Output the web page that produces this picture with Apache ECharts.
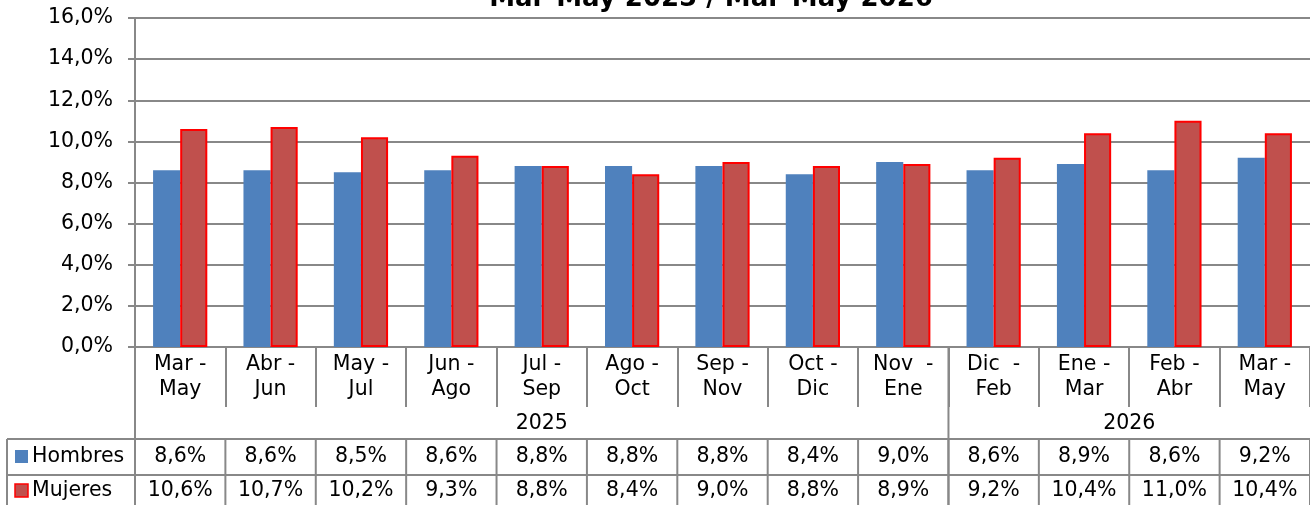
<!DOCTYPE html>
<html>
<head>
<meta charset="utf-8">
<script src="https://cdn.jsdelivr.net/npm/echarts@6/dist/echarts.min.js"></script>
<style>
html, body { margin: 0; padding: 0; background: #fff; }
#chart { width: 1310px; height: 505px; }
</style>
</head>
<body>
<div id="chart"></div>
<script>
// periodos (trimestres móviles)
const categories = ['Mar -\nMay', 'Abr -\nJun', 'May -\nJul', 'Jun -\nAgo', 'Jul -\nSep', 'Ago -\nOct',
  'Sep -\nNov', 'Oct -\nDic', 'Nov  -\nEne', 'Dic  -\nFeb', 'Ene -\nMar', 'Feb -\nAbr', 'Mar -\nMay']
const yearLabels = ['2025', '2026']
const yearSpans = [9, 4]
const seriesNames = ['Hombres', 'Mujeres']
const hombres = [8.6, 8.6, 8.5, 8.6, 8.8, 8.8, 8.8, 8.4, 9.0, 8.6, 8.9, 8.6, 9.2]
const mujeres = [10.6, 10.7, 10.2, 9.3, 8.8, 8.4, 9.0, 8.8, 8.9, 9.2, 10.4, 11.0, 10.4]
const yTicks = [0, 2, 4, 6, 8, 10, 12, 14, 16]

const FONT = 'DejaVu Sans, Verdana, sans-serif'
const FS = 20.5
const GRID_COLOR = '#888888'
const BLUE = '#4F81BD'
const RED = '#C0504D'

const fmt = v => v.toFixed(1).replace('.', ',') + '%'

const chart = echarts.init(document.getElementById('chart'))

const option = {
  animation: false,
  title: {
    text: 'Mar-May 2025 / Mar-May 2026',
    left: 706,
    textAlign: 'center',
    top: -19,
    textStyle: { fontFamily: FONT, fontSize: 26, fontWeight: 'bold', color: '#000' }
  },
  grid: { left: 135, right: 0, top: 18, bottom: 158 },
  xAxis: {
    type: 'category',
    data: categories,
    axisLine: { show: true, lineStyle: { color: GRID_COLOR, width: 2 } },
    axisTick: { show: true, interval: 0, length: 60, lineStyle: { color: GRID_COLOR, width: 2 } },
    axisLabel: {
      interval: 0, margin: 5, color: '#000', fontFamily: FONT, fontSize: FS, lineHeight: 25
    }
  },
  yAxis: {
    type: 'value',
    min: yTicks[0],
    max: yTicks[yTicks.length - 1],
    interval: 2,
    axisLine: { show: true, lineStyle: { color: GRID_COLOR, width: 2 } },
    axisTick: { show: true, length: 7, lineStyle: { color: GRID_COLOR, width: 2 } },
    splitLine: { show: true, lineStyle: { color: GRID_COLOR, width: 2 } },
    axisLabel: {
      margin: 22, color: '#000', fontFamily: FONT, fontSize: FS,
      formatter: v => fmt(v)
    }
  },
  series: [
    {
      name: seriesNames[0], type: 'bar', data: hombres,
      barGap: '0%', barCategoryGap: '40%',
      itemStyle: { color: BLUE }
    },
    {
      name: seriesNames[1], type: 'bar', data: mujeres,
      itemStyle: { color: RED, borderColor: '#FF0000', borderWidth: 2 }
    }
  ]
}
chart.setOption(option)

// tabla de datos bajo el eje
const buildTable = () => {
  const p0 = chart.convertToPixel({ gridIndex: 0 }, [0, 0])
  const p1 = chart.convertToPixel({ gridIndex: 0 }, [1, 0])
  const step = p1[0] - p0[0]
  const left = p0[0] - step / 2
  const baseY = p0[1]
  const yearY = baseY + 77
  const rowTop = baseY + 92
  const rowMid = baseY + 128
  const rowBot = 505
  const tableLeft = 7
  const W = 1310
  const line = (xa, ya, xb, yb) => ({
    type: 'line', silent: true,
    shape: { x1: xa, y1: ya, x2: xb, y2: yb },
    style: { stroke: GRID_COLOR, lineWidth: 2 }
  })
  const text = (t, x, y, align) => ({
    type: 'text', silent: true, x: x, y: y,
    style: { text: t, fill: '#000', font: FS + 'px ' + FONT, align: align || 'center', verticalAlign: 'middle' }
  })
  const els = []
  // prolongación del eje y separadores de año
  els.push(line(left, baseY, left, rowBot))
  let idx = 0
  yearLabels.forEach((y, i) => {
    const a = left + idx * step
    idx += yearSpans[i]
    const b = left + idx * step
    els.push(text(y, (a + b) / 2, yearY))
    if (idx < categories.length) els.push(line(b, baseY, b, rowBot))
  })
  // filas de la tabla
  els.push(line(tableLeft, rowTop, W, rowTop))
  els.push(line(tableLeft, rowMid, W, rowMid))
  els.push(line(tableLeft, rowTop, tableLeft, rowBot))
  for (let i = 1; i <= categories.length; i++) {
    els.push(line(left + i * step, rowTop, left + i * step, rowBot))
  }
  const rows = [hombres, mujeres]
  const colors = [BLUE, RED]
  const rowCenters = [(rowTop + rowMid) / 2, (rowMid + rowBot) / 2 + 1]
  rows.forEach((vals, r) => {
    const cy = rowCenters[r]
    els.push({
      type: 'rect', silent: true,
      shape: { x: 15, y: cy - 7, width: 13, height: 13 },
      style: { fill: colors[r], stroke: r === 1 ? '#FF0000' : null, lineWidth: 1.5 }
    })
    els.push(text(seriesNames[r], 32, cy, 'left'))
    vals.forEach((v, i) => {
      els.push(text(fmt(v), left + (i + 0.5) * step, cy))
    })
  })
  chart.setOption({ graphic: { elements: els } })
}
buildTable()
</script>
</body>
</html>
